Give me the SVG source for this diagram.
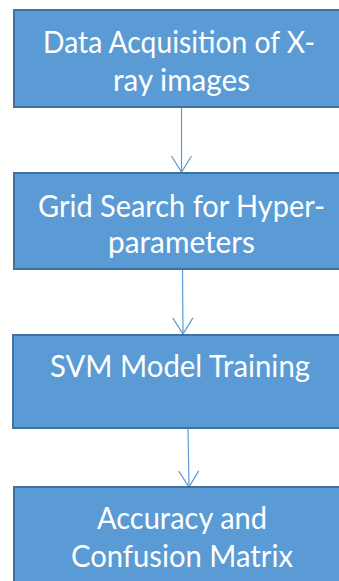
<svg xmlns="http://www.w3.org/2000/svg" width="339" height="581" viewBox="0 0 339 581">
<defs>
<style>
.box{fill:#5B9BD5;stroke:#41719C;stroke-width:2}
.lbl{font-family:Lato,"Open Sans","Liberation Sans",sans-serif;font-size:30px;fill:#FFFFFF;text-anchor:middle}
.conn{stroke:#5B9BD5;stroke-width:1.2;fill:none}
</style>
<marker id="arr" markerUnits="userSpaceOnUse" viewBox="-18 -12 20 24" markerWidth="20" markerHeight="24" refX="0" refY="0" orient="auto">
<path d="M-16,-10 L0,0 L-16,10" fill="none" stroke="#5B9BD5" stroke-width="1.2"/>
</marker>
</defs>
<rect width="339" height="581" fill="#FFFFFF"/>
<g id="connectors">
<line class="conn" x1="181.5" y1="107" x2="181.5" y2="172" marker-end="url(#arr)"/>
<line class="conn" x1="182.5" y1="269" x2="183" y2="334" marker-end="url(#arr)"/>
<line class="conn" x1="188" y1="428" x2="189" y2="487" marker-end="url(#arr)"/>
</g>
<g id="node1">
<rect class="box" x="14" y="10" width="336" height="97"/>
<text class="lbl" x="179" y="53" textLength="272" lengthAdjust="spacingAndGlyphs">Data Acquisition of X-</text>
<text class="lbl" x="181.5" y="91" textLength="137" lengthAdjust="spacingAndGlyphs">ray images</text>
</g>
<g id="node2">
<rect class="box" x="14" y="173" width="336" height="96"/>
<text class="lbl" x="181.5" y="217" textLength="287" lengthAdjust="spacingAndGlyphs">Grid Search for Hyper-</text>
<text class="lbl" x="181.5" y="253" textLength="147" lengthAdjust="spacingAndGlyphs">parameters</text>
</g>
<g id="node3">
<rect class="box" x="13" y="335" width="337" height="93"/>
<text class="lbl" x="180" y="377" textLength="260" lengthAdjust="spacingAndGlyphs">SVM Model Training</text>
</g>
<g id="node4">
<rect class="box" x="14" y="487" width="336" height="110"/>
<text class="lbl" x="182" y="529" textLength="170" lengthAdjust="spacingAndGlyphs">Accuracy and</text>
<text class="lbl" x="182" y="567" textLength="222" lengthAdjust="spacingAndGlyphs">Confusion Matrix</text>
</g>
</svg>
